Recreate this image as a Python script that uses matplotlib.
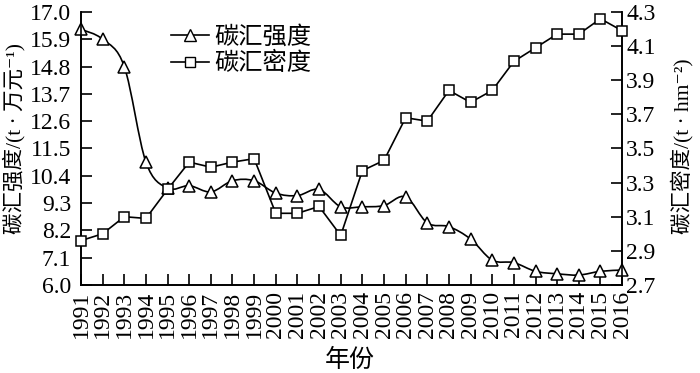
import numpy as np
import matplotlib
matplotlib.use('Agg')
import matplotlib.pyplot as plt
from matplotlib.path import Path
from matplotlib.patches import PathPatch
from matplotlib.lines import Line2D

plt.rcParams['font.family'] = ['Liberation Serif', 'Noto Sans CJK SC', 'DejaVu Sans']

# Data
years = list(range(1991, 2017))
intensity = [16.3, 15.9, 14.8, 10.95, 9.9, 10.0, 9.75, 10.2, 10.2, 9.7, 9.6, 9.85, 9.15,
             9.15, 9.2, 9.55, 8.5, 8.35, 7.85, 7.0, 6.9, 6.55, 6.45, 6.4, 6.55, 6.6]
density = [2.96, 3.0, 3.1, 3.09, 3.26, 3.42, 3.39, 3.42, 3.44, 3.12, 3.12, 3.16, 2.99,
           3.37, 3.43, 3.68, 3.66, 3.84, 3.77, 3.84, 4.01, 4.09, 4.17, 4.17, 4.26, 4.19]
left_ticks = [6.0, 7.1, 8.2, 9.3, 10.4, 11.5, 12.6, 13.7, 14.8, 15.9, 17.0]
right_ticks = [2.7, 2.9, 3.1, 3.3, 3.5, 3.7, 3.9, 4.1, 4.3]


def smooth_path(x, y):
    # Catmull-Rom through the points, as cubic Bezier segments
    x = np.asarray(x, float)
    y = np.asarray(y, float)
    verts = [(x[0], y[0])]
    codes = [Path.MOVETO]
    n = len(x)
    for i in range(n - 1):
        p0 = (x[max(i - 1, 0)], y[max(i - 1, 0)])
        p1 = (x[i], y[i])
        p2 = (x[i + 1], y[i + 1])
        p3 = (x[min(i + 2, n - 1)], y[min(i + 2, n - 1)])
        c1 = (p1[0] + (p2[0] - p0[0]) / 6, p1[1] + (p2[1] - p0[1]) / 6)
        c2 = (p2[0] - (p3[0] - p1[0]) / 6, p2[1] - (p3[1] - p1[1]) / 6)
        verts += [c1, c2, p2]
        codes += [Path.CURVE4] * 3
    return Path(verts, codes)


fig = plt.figure(figsize=(7, 3.73), dpi=100)
ax = fig.add_axes([0.1157, 0.236, 0.773, 0.732])
ax2 = ax.twinx()

fs = 17
cfs = 15.5
# carbon intensity (smoothed line with triangles)
ax.add_patch(PathPatch(smooth_path(years, intensity), fill=False, lw=1.2,
                       edgecolor='black', clip_on=False, zorder=3))
ax.plot(years, intensity, ls='none', marker='^', ms=8, mfc='white', mec='black',
        mew=1.1, clip_on=False, zorder=4)
# carbon density (straight line with squares)
ax2.plot(years, density, color='black', lw=1.2, marker='s', ms=7.5, mfc='white',
         mec='black', mew=1.1, clip_on=False, zorder=4)

ax.set_xlim(1991, 2016)
ax.set_ylim(6.0, 17.0)
ax2.set_ylim(2.7, 4.3)
ax.set_xticks(years)
ax.set_xticklabels([str(y) for y in years], rotation=90, fontsize=fs)
ax.set_yticks(left_ticks)
ax.set_yticklabels([f'{v:.1f}' for v in left_ticks], fontsize=fs)
ax2.set_yticks(right_ticks)
ax2.set_yticklabels([f'{v:.1f}' for v in right_ticks], fontsize=fs)

ax.tick_params(axis='both', direction='in', length=8, width=1.2, pad=4)
ax.tick_params(axis='y', pad=7)
ax2.tick_params(axis='y', direction='in', length=8, width=1.2, pad=3)
for a in (ax, ax2):
    a.spines['top'].set_visible(False)
    for s in ('left', 'right', 'bottom'):
        a.spines[s].set_linewidth(1.2)

ax.set_xlabel('年份', fontsize=18)
ax.set_ylabel('碳汇强度/(t · 万元⁻¹)', fontsize=cfs)
ax2.set_ylabel('碳汇密度/(t · hm⁻²)', fontsize=cfs)
ax.xaxis.set_label_coords(0.497, -0.235)
ax.yaxis.set_label_coords(-0.102, 0.535)
ax2.yaxis.set_label_coords(1.089, 0.51)

handles = [
    Line2D([], [], color='black', lw=1.2, marker='^', ms=8, mfc='white', mec='black'),
    Line2D([], [], color='black', lw=1.2, marker='s', ms=7.5, mfc='white', mec='black'),
]
ax.legend(handles, ['碳汇强度', '碳汇密度'], loc='upper left', bbox_to_anchor=(0.125, 1.03),
          frameon=False, fontsize=17.5, handlelength=1.6, handletextpad=0.2,
          labelspacing=0.15)

fig.savefig('out.png', dpi=100)
